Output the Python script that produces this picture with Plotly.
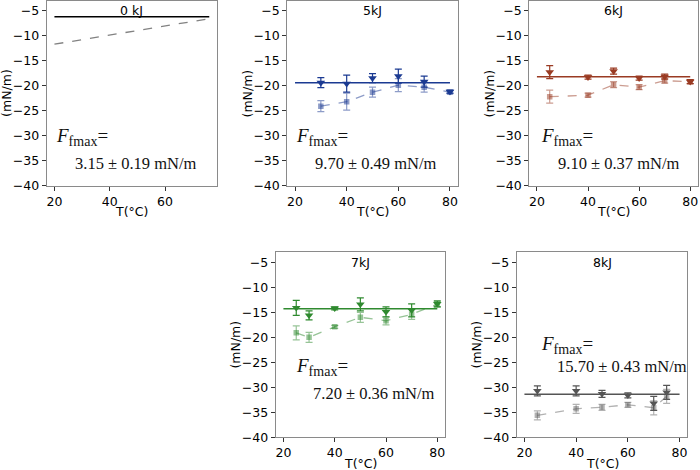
import plotly.graph_objects as go

# ---------------- data ----------------
panel_titles = ["0 kJ", "5kJ", "6kJ", "7kJ", "8kJ"]
fmax_text = ["3.15 \u00b1 0.19 mN/m", "9.70 \u00b1 0.49 mN/m", "9.10 \u00b1 0.37 mN/m",
             "7.20 \u00b1 0.36 mN/m", "15.70 \u00b1 0.43 mN/m"]

# 0 kJ
T0_line = [20, 76]
f0_solid = [-6.2, -6.2]
f0_dash = [-11.7, -6.6]

# 5 kJ
T5 = [30, 40, 50, 60, 70, 80]
f5_dark = [-19.4, -19.6, -18.5, -18.1, -19.2, -21.2]
e5_dark = [1.0, 1.7, 0.9, 1.4, 1.1, 0.3]
f5_light = [-24.1, -23.2, -21.3, -19.9, -20.3, -21.3]
e5_light = [1.1, 1.7, 1.0, 1.3, 1.0, 0.3]
f5_mean = -19.4

# 6 kJ
T6 = [25, 40, 50, 60, 70, 80]
f6_dark = [-17.3, -18.3, -17.1, -18.5, -18.2, -19.2]
e6_dark = [1.3, 0.4, 0.6, 0.4, 0.5, 0.4]
f6_light = [-22.2, -21.9, -19.8, -20.3, -19.0, -19.2]
e6_light = [1.3, 0.4, 0.6, 0.5, 0.5, 0.4]
f6_mean = -18.2

# 7 kJ
T7 = [25, 30, 40, 50, 60, 70, 80]
f7_dark = [-14.1, -15.6, -14.2, -13.4, -14.9, -14.6, -13.3]
e7_dark = [1.5, 0.9, 0.3, 1.3, 1.0, 1.3, 0.6]
f7_light = [-19.1, -20.0, -17.9, -16.0, -16.7, -15.4, -13.4]
e7_light = [1.4, 1.0, 0.3, 1.0, 0.8, 1.0, 0.5]
f7_mean = -14.3

# 8 kJ
T8 = [25, 40, 50, 60, 70, 75]
f8_dark = [-30.7, -30.7, -31.3, -31.6, -33.2, -31.0]
e8_dark = [1.0, 1.0, 0.7, 0.5, 1.4, 1.4]
f8_light = [-35.6, -34.3, -34.0, -33.5, -34.1, -31.8]
e8_light = [0.9, 0.9, 0.6, 0.5, 1.4, 1.4]
f8_mean = -31.4

T_mean_line = [20, 80]

y_ticks = [-40, -35, -30, -25, -20, -15, -10, -5]
x_ticks = [20, 40, 60, 80]

# ---------------- styling ----------------
dark_colors = ["#000000", "#1b3a92", "#9a3b23", "#2f8a2f", "#555555"]
light_colors = ["rgba(130,130,130,1)", "rgba(27,58,146,0.5)", "rgba(154,59,35,0.5)",
                "rgba(47,138,47,0.5)", "rgba(85,85,85,0.45)"]

domains = [
    ((0.0667, 0.3100), (0.6049, 0.9985)),
    ((0.4104, 0.6539), (0.6049, 0.9985)),
    ((0.7561, 0.9970), (0.6049, 0.9985)),
    ((0.3939, 0.6357), (0.0696, 0.4632)),
    ((0.7381, 0.9819), (0.0696, 0.4632)),
]
x_ranges = [[17.2, 78.8], [17, 83], [17, 83], [17, 83], [17, 83]]
y_range = [-40, -3]

# annotation positions (data coords): (F line x, F line y, value x, value y)
ann_pos = [
    (19.9, -30.2, 26.7, -35.5),
    (19.7, -30.2, 26.8, -35.5),
    (20.9, -30.2, 27.5, -35.5),
    (24.3, -25.9, 30.8, -31.2),
    (25.8, -21.5, 31.9, -25.9),
]

fig = go.Figure()

# panel 0
fig.add_trace(go.Scatter(x=T0_line, y=f0_solid, mode="lines",
                         line=dict(color=dark_colors[0], width=1.6),
                         xaxis="x", yaxis="y", showlegend=False))
fig.add_trace(go.Scatter(x=T0_line, y=f0_dash, mode="lines",
                         line=dict(color=light_colors[0], width=1.3, dash="dash"),
                         xaxis="x", yaxis="y", showlegend=False))

series = [
    (T5, f5_dark, e5_dark, f5_light, e5_light, f5_mean),
    (T6, f6_dark, e6_dark, f6_light, e6_light, f6_mean),
    (T7, f7_dark, e7_dark, f7_light, e7_light, f7_mean),
    (T8, f8_dark, e8_dark, f8_light, e8_light, f8_mean),
]

for i, (T, fd, ed, fl, el, fm) in enumerate(series, start=1):
    xa = "x%d" % (i + 1)
    ya = "y%d" % (i + 1)
    dc = dark_colors[i]
    lc = light_colors[i]
    fig.add_trace(go.Scatter(x=T, y=fl, mode="lines+markers",
                             line=dict(color=lc, width=1.3, dash="dash"),
                             marker=dict(symbol="square", size=5.5, color=lc),
                             error_y=dict(type="data", array=el, color=lc, thickness=1.2, width=3.5),
                             xaxis=xa, yaxis=ya, showlegend=False))
    fig.add_trace(go.Scatter(x=T_mean_line, y=[fm, fm], mode="lines",
                             line=dict(color=dc, width=1.6),
                             xaxis=xa, yaxis=ya, showlegend=False))
    fig.add_trace(go.Scatter(x=T, y=fd, mode="markers",
                             marker=dict(symbol="triangle-down", size=7.5, color=dc),
                             error_y=dict(type="data", array=ed, color=dc, thickness=1.2, width=3.5),
                             xaxis=xa, yaxis=ya, showlegend=False))

tick_font = dict(family="DejaVu Sans", size=12.5, color="#000000")
layout = dict(width=700, height=470, margin=dict(l=0, r=0, t=0, b=0, autoexpand=False),
              paper_bgcolor="white", plot_bgcolor="white", showlegend=False)

annotations = []
for i in range(5):
    sx = "" if i == 0 else str(i + 1)
    (xd, yd) = domains[i]
    common = dict(ticks="outside", ticklen=4, tickwidth=1, tickcolor="#333333",
                  showline=True, mirror=True, linecolor="#8a8a8a", linewidth=1,
                  showgrid=False, zeroline=False, tickfont=tick_font, automargin=False)
    layout["xaxis" + sx] = dict(domain=list(xd), range=x_ranges[i], anchor="y" + sx,
                                tickvals=x_ticks, **common)
    layout["yaxis" + sx] = dict(domain=list(yd), range=y_range, anchor="x" + sx,
                                tickvals=y_ticks, **common)
    xr = "x" + sx
    yr = "y" + sx
    # panel title
    annotations.append(dict(text=panel_titles[i], xref=xr + " domain", yref=yr + " domain",
                            x=0.5, y=1, yshift=-10, xanchor="center", yanchor="middle",
                            showarrow=False, font=dict(family="DejaVu Sans", size=12.5, color="black")))
    # axis titles
    annotations.append(dict(text="T(\u00b0C)", xref=xr + " domain", yref=yr + " domain",
                            x=0.5, y=0, yshift=-26, xanchor="center", yanchor="middle",
                            showarrow=False, font=dict(family="DejaVu Sans", size=12.5, color="black")))
    annotations.append(dict(text="(mN/m)", xref=xr + " domain", yref=yr + " domain",
                            x=0, y=0.5, xshift=-40, xanchor="center", yanchor="middle",
                            textangle=-90, showarrow=False,
                            font=dict(family="DejaVu Sans", size=12.5, color="black")))
    # F_fmax text
    fx, fy, vx, vy = ann_pos[i]
    annotations.append(dict(text="<i>F</i><sub><span style='font-size:14px'>fmax</span></sub>=",
                            xref=xr, yref=yr, x=fx, y=fy,
                            xanchor="left", yanchor="middle", showarrow=False,
                            font=dict(family="Liberation Serif", size=19, color="#111111")))
    annotations.append(dict(text=fmax_text[i], xref=xr, yref=yr, x=vx, y=vy,
                            xanchor="left", yanchor="middle", showarrow=False,
                            font=dict(family="Liberation Serif", size=16.5, color="#111111")))

layout["annotations"] = annotations
fig.update_layout(**layout)
fig.write_html("out.html", config={"displayModeBar": False},
               post_script="document.body.style.margin='0';document.body.style.padding='0';")
